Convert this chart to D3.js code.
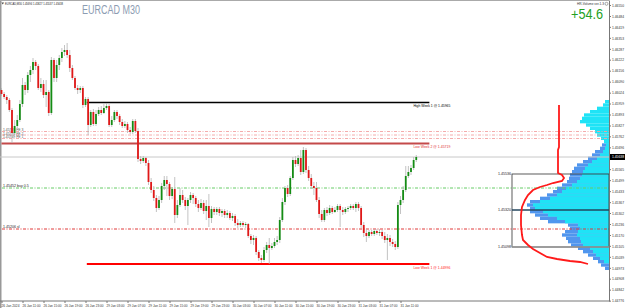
<!DOCTYPE html>
<html lang="en">
<head>
<meta charset="UTF-8">
<title>EURCAD M30</title>
<script src="https://d3js.org/d3.v7.min.js"></script>
<style>
  body { margin: 0; background: #fff; font-family: "Liberation Sans", Arial, sans-serif; }
  svg { display: block; }
</style>
</head>
<body>
<svg id="chart" width="625" height="308"></svg>
<script>
// M30 candles, 26 Jan 07:00 -> 31 Jan 14:00
const opens = [
  1.46040,1.46016,1.45998,1.45980,1.45920,1.45782,1.45824,1.45860,1.45956,1.46070,
  1.46040,1.46130,1.46160,1.46208,1.46184,1.46052,1.46076,1.46010,1.46028,1.45902,
  1.46220,1.46112,1.46190,1.46232,1.46268,1.46280,1.46250,1.46172,1.46112,1.46052,
  1.46040,1.46052,1.45950,1.45986,1.45830,1.45908,1.45836,1.45896,1.45920,1.45902,
  1.45932,1.45944,1.45830,1.45860,1.45908,1.45884,1.45848,1.45824,1.45836,1.45800,
  1.45788,1.45854,1.45794,1.45626,1.45614,1.45632,1.45602,1.45488,1.45440,1.45392,
  1.45332,1.45380,1.45464,1.45500,1.45476,1.45404,1.45446,1.45290,1.45350,1.45410,
  1.45380,1.45344,1.45380,1.45410,1.45392,1.45356,1.45332,1.45362,1.45314,1.45344,
  1.45272,1.45326,1.45308,1.45326,1.45302,1.45314,1.45290,1.45302,1.45272,1.45284,
  1.45242,1.45230,1.45242,1.45230,1.45236,1.45164,1.45140,1.45152,1.45068,1.45032,
  1.45020,1.45080,1.45110,1.45092,1.45104,1.45128,1.45140,1.45260,1.45368,1.45452,
  1.45416,1.45512,1.45620,1.45596,1.45632,1.45548,1.45680,1.45560,1.45512,1.45464,
  1.45452,1.45380,1.45296,1.45260,1.45320,1.45302,1.45332,1.45308,1.45320,1.45344,
  1.45320,1.45308,1.45326,1.45332,1.45344,1.45332,1.45356,1.45332,1.45230,1.45182,
  1.45164,1.45188,1.45176,1.45194,1.45182,1.45188,1.45164,1.45140,1.45152,1.45128,
  1.45116,1.45098,1.45350,1.45380,1.45440,1.45524,1.45548,1.45572,1.45620
];
const highs = [
  1.46052,1.46028,1.46010,1.45992,1.45932,1.45860,1.45890,1.45980,1.46112,1.46088,
  1.46148,1.46184,1.46232,1.46220,1.46196,1.46112,1.46100,1.46100,1.46040,1.46238,
  1.46232,1.46220,1.46250,1.46292,1.46310,1.46322,1.46280,1.46190,1.46124,1.46070,
  1.46064,1.46064,1.45998,1.45998,1.45920,1.45926,1.45920,1.45938,1.45944,1.45956,
  1.45962,1.45956,1.45884,1.45920,1.45920,1.45896,1.45866,1.45854,1.45848,1.45818,
  1.45866,1.45866,1.45812,1.45644,1.45644,1.45638,1.45620,1.45512,1.45464,1.45410,
  1.45404,1.45482,1.45524,1.45524,1.45488,1.45458,1.45518,1.45380,1.45452,1.45440,
  1.45398,1.45392,1.45428,1.45422,1.45404,1.45380,1.45386,1.45380,1.45380,1.45416,
  1.45344,1.45338,1.45338,1.45338,1.45326,1.45326,1.45320,1.45314,1.45302,1.45296,
  1.45266,1.45254,1.45254,1.45248,1.45242,1.45176,1.45170,1.45164,1.45080,1.45050,
  1.45098,1.45128,1.45152,1.45122,1.45152,1.45164,1.45278,1.45392,1.45464,1.45470,
  1.45524,1.45638,1.45644,1.45650,1.45680,1.45698,1.45692,1.45584,1.45536,1.45488,
  1.45488,1.45398,1.45320,1.45332,1.45338,1.45350,1.45344,1.45338,1.45356,1.45356,
  1.45338,1.45338,1.45344,1.45356,1.45356,1.45368,1.45368,1.45344,1.45248,1.45206,
  1.45200,1.45200,1.45206,1.45206,1.45206,1.45200,1.45188,1.45176,1.45170,1.45146,
  1.45134,1.45368,1.45404,1.45464,1.45584,1.45584,1.45590,1.45638,1.45650
];
const lows = [
  1.46004,1.45986,1.45956,1.45908,1.45722,1.45770,1.45812,1.45848,1.45938,1.46010,
  1.46022,1.46088,1.46136,1.46160,1.46040,1.46028,1.45992,1.45938,1.45884,1.45890,
  1.46088,1.46088,1.46160,1.46208,1.46244,1.46232,1.46148,1.46100,1.46040,1.46016,
  1.46022,1.45932,1.45938,1.45770,1.45818,1.45824,1.45824,1.45884,1.45890,1.45896,
  1.45920,1.45818,1.45818,1.45848,1.45866,1.45830,1.45812,1.45812,1.45782,1.45776,
  1.45776,1.45782,1.45608,1.45596,1.45602,1.45584,1.45470,1.45422,1.45374,1.45308,
  1.45320,1.45362,1.45440,1.45404,1.45380,1.45386,1.45242,1.45272,1.45338,1.45362,
  1.45320,1.45230,1.45362,1.45356,1.45338,1.45308,1.45320,1.45296,1.45260,1.45218,
  1.45242,1.45290,1.45290,1.45284,1.45278,1.45272,1.45272,1.45260,1.45254,1.45224,
  1.45212,1.45218,1.45218,1.45212,1.45152,1.45116,1.45110,1.45050,1.45014,1.45002,
  1.45008,1.45062,1.44996,1.45080,1.45092,1.45110,1.45122,1.45248,1.45350,1.45398,
  1.45404,1.45500,1.45578,1.45584,1.45530,1.45536,1.45542,1.45494,1.45446,1.45410,
  1.45368,1.45272,1.45248,1.45248,1.45284,1.45290,1.45296,1.45302,1.45308,1.45218,
  1.45290,1.45296,1.45308,1.45320,1.45320,1.45308,1.45314,1.45212,1.45158,1.45128,
  1.45152,1.45164,1.45164,1.45170,1.45164,1.45146,1.45122,1.45020,1.45104,1.45098,
  1.45080,1.45086,1.45296,1.45362,1.45428,1.45512,1.45530,1.45560,1.45608
];
const closes = [
  1.46016,1.45998,1.45980,1.45920,1.45782,1.45824,1.45860,1.45956,1.46070,1.46040,
  1.46130,1.46160,1.46208,1.46184,1.46052,1.46076,1.46010,1.46028,1.45902,1.46220,
  1.46112,1.46190,1.46232,1.46268,1.46280,1.46250,1.46172,1.46112,1.46052,1.46040,
  1.46052,1.45950,1.45986,1.45830,1.45908,1.45836,1.45896,1.45920,1.45902,1.45932,
  1.45944,1.45830,1.45860,1.45908,1.45884,1.45848,1.45824,1.45836,1.45800,1.45788,
  1.45854,1.45794,1.45626,1.45614,1.45632,1.45602,1.45488,1.45440,1.45392,1.45332,
  1.45380,1.45464,1.45500,1.45476,1.45404,1.45446,1.45290,1.45350,1.45410,1.45380,
  1.45344,1.45380,1.45410,1.45392,1.45356,1.45332,1.45362,1.45314,1.45344,1.45272,
  1.45326,1.45308,1.45326,1.45302,1.45314,1.45290,1.45302,1.45272,1.45284,1.45242,
  1.45230,1.45242,1.45230,1.45236,1.45164,1.45140,1.45152,1.45068,1.45032,1.45020,
  1.45080,1.45110,1.45092,1.45104,1.45128,1.45140,1.45260,1.45368,1.45452,1.45416,
  1.45512,1.45620,1.45596,1.45632,1.45548,1.45680,1.45560,1.45512,1.45464,1.45452,
  1.45380,1.45296,1.45260,1.45320,1.45302,1.45332,1.45308,1.45320,1.45344,1.45320,
  1.45308,1.45326,1.45332,1.45344,1.45332,1.45356,1.45332,1.45230,1.45182,1.45164,
  1.45188,1.45176,1.45194,1.45182,1.45188,1.45164,1.45140,1.45152,1.45128,1.45116,
  1.45098,1.45350,1.45380,1.45440,1.45524,1.45548,1.45572,1.45620,1.45638
];

const timeLabels = ["26 Jan 2024","26 Jan 11:00","26 Jan 15:00","26 Jan 19:00","26 Jan 23:00",
  "29 Jan 03:00","29 Jan 07:00","29 Jan 11:00","29 Jan 15:00","29 Jan 19:00","29 Jan 23:00",
  "30 Jan 03:00","30 Jan 07:00","30 Jan 11:00","30 Jan 15:00","30 Jan 19:00","30 Jan 23:00",
  "31 Jan 03:00","31 Jan 07:00","31 Jan 11:00"];
const timeLabelBars = [0,8,16,24,32,40,48,56,64,72,80,88,96,104,112,120,128,136,144,152];

const priceTicks = [1.46550,1.46484,1.46419,1.46353,1.46287,1.46222,1.46156,1.46090,1.46024,
  1.45959,1.45893,1.45827,1.45762,1.45696,1.45565,1.45499,1.45433,1.45367,1.45302,1.45236,
  1.45170,1.45105,1.45039,1.44973,1.44908,1.44842,1.44776];

// weekly levels
const weekNames = ["High Week 1", "Low Week 2", "Low Week 1"];
const weekPrices = [1.45965, 1.45719, 1.44996];
const weekFromBar = [32.5, -1, 32.5];
const weekToBar = 163;

// fibo / trade levels
const fiboPrices = [1.45791, 1.45770, 1.45749];
const fiboNames = ["1.45791 FE 3", "1.45770 FE 2", "1.45749 FE 1"];
const entryPrice = 1.45452, entryName = "1.45452 buy 0.5";
const stopPrice = 1.45206, stopName = "1.45206 sl";

// volume profile (bin edges, two volume series)
const profileEdges = [1.45980,1.45960,1.45940,1.45920,1.45900,1.45880,1.45860,1.45840,1.45820,1.45800,
  1.45780,1.45760,1.45740,1.45720,1.45700,1.45680,1.45660,1.45640,1.45620,1.45600,
  1.45580,1.45560,1.45540,1.45520,1.45500,1.45480,1.45460,1.45440,1.45420,1.45400,
  1.45380,1.45360,1.45340,1.45320,1.45300,1.45280,1.45260,1.45240,1.45220,1.45200,
  1.45180,1.45160,1.45140,1.45120,1.45100,1.45080,1.45060,1.45040,1.45020,1.45000,
  1.44980,1.44960];
const volTotal = [0,0,0,0,0,0,0,0,0,0,0,0,0,7,9,14,17,21,26,32,35,37,39,40,42,47,52,56,62,69,
  79,82,79,79,74,69,61,41,39,44,47,43,41,38,31,26,21,16,11,8,4];
const volCore = [4,6,12,19,25,27,29,23,19,14,12,8,5,3,4,6,9,12,17,21,24,26,27,29,32,37,43,47,52,59,
  69,76,74,66,61,52,44,31,29,31,32,29,28,26,19,16,13,9,5,0,0];

// profile outline
const curvePrices = [1.45950,1.45698,1.45680,1.45542,1.45530,1.45512,1.45494,1.45482,1.45470,1.45458,
  1.45440,1.45410,1.45380,1.45338,1.45290,1.45230,1.45170,1.45140,1.45110,1.45086,
  1.45062,1.45038,1.45026,1.45014,1.45008,1.44996];
const curveVols = [50,50,51,51,47,45,47,56,62,69,76,81,84,87,88,88,87,86,81,76,69,62,52,39,29,21];

// value area box
const boxPrices = [1.45536, 1.45320, 1.45098];
const boxVol = 97;

const svg = d3.select("#chart");
const x = d3.scaleLinear().domain([0, 158]).range([1.5, 416.25]);
const y = d3.scaleLinear().domain([1.46580, 1.44774]).range([0, 301]);
const xv = d3.scaleLinear().domain([0, 100]).range([609, 509]);
const fmt = d3.format(".5f");
const last = closes[closes.length - 1];

// frame
svg.append("rect").attr("width", 625).attr("height", 308).attr("fill", "#fff");
svg.append("line").attr("x1", 0.75).attr("x2", 0.75).attr("y1", 0).attr("y2", 308)
  .attr("stroke", "#999").attr("stroke-width", 1.5);
svg.append("line").attr("x1", 0).attr("x2", 609).attr("y1", 0.5).attr("y2", 0.5)
  .attr("stroke", "#aaa");

// volume profile
const bins = volTotal.map((v, k) => ({top: profileEdges[k], bot: profileEdges[k + 1], v, c: volCore[k]}));
svg.append("g").selectAll("rect").data(bins.filter(d => d.v > 0)).join("rect")
  .attr("x", d => xv(d.v)).attr("width", d => xv(0) - xv(d.v))
  .attr("y", d => y(d.top)).attr("height", d => y(d.bot) - y(d.top))
  .attr("fill", "#5096ee");
svg.append("g").selectAll("rect").data(bins.filter(d => d.c > 0)).join("rect")
  .attr("x", d => xv(d.c)).attr("width", d => xv(0) - xv(d.c))
  .attr("y", d => y(d.top)).attr("height", d => y(d.bot) - y(d.top))
  .attr("fill", "#1fe3f6");

// current price line
svg.append("line").attr("x1", 0).attr("x2", 609).attr("y1", y(last)).attr("y2", y(last))
  .attr("stroke", "#c8c8c8").attr("stroke-width", 1);

// fibo lines
fiboPrices.forEach((p, i) => {
  svg.append("line").attr("x1", 2).attr("x2", 609).attr("y1", y(p)).attr("y2", y(p))
    .attr("stroke", "#f3a3a3").attr("stroke-width", 0.9).attr("stroke-dasharray", "3,1.5,1,1.5");
  svg.append("text").attr("x", 3).attr("y", y(p) - 0.4).attr("font-size", 3.4)
    .attr("fill", "#555").text(fiboNames[i]);
});
[[entryPrice, entryName, "#66cc66"], [stopPrice, stopName, "#e03a3a"]].forEach(([p, name, col]) => {
  svg.append("line").attr("x1", 2).attr("x2", 609).attr("y1", y(p)).attr("y2", y(p))
    .attr("stroke", col).attr("stroke-width", 1).attr("stroke-dasharray", "3,1.5,1,1.5");
  svg.append("text").attr("x", 3).attr("y", y(p) - 0.8).attr("font-size", 3.6)
    .attr("fill", "#222").text(name);
});

// weekly levels
const weekStyle = [["#000", 1.4, "#000"], ["#c44a4a", 2, "#e03030"], ["#ff0000", 2, "#ff2020"]];
weekPrices.forEach((p, i) => {
  const [col, w, tcol] = weekStyle[i];
  svg.append("line").attr("x1", Math.max(1.5, x(weekFromBar[i]))).attr("x2", x(weekToBar))
    .attr("y1", y(p)).attr("y2", y(p)).attr("stroke", col).attr("stroke-width", w);
  svg.append("text").attr("x", x(weekToBar) - 16).attr("y", y(p) + 4.6)
    .attr("font-size", 3.8).attr("textLength", 37).attr("lengthAdjust", "spacingAndGlyphs")
    .attr("fill", tcol).text(`${weekNames[i]} @ ${fmt(p)}`);
});

// candles
const bars = closes.map((c, i) => ({i, o: opens[i], h: highs[i], l: lows[i], c}));
const cg = svg.append("g");
cg.selectAll("line").data(bars).join("line")
  .attr("x1", d => x(d.i)).attr("x2", d => x(d.i))
  .attr("y1", d => y(d.h)).attr("y2", d => y(d.l))
  .attr("stroke", "#b4b4b4").attr("stroke-width", 0.8);
cg.selectAll("rect").data(bars).join("rect")
  .attr("x", d => x(d.i) - 0.9).attr("width", 1.8)
  .attr("y", d => y(Math.max(d.o, d.c)))
  .attr("height", d => Math.max(0.6, Math.abs(y(d.o) - y(d.c))))
  .attr("fill", d => d.c >= d.o ? "#148c14" : "#e01818");

// value area box
svg.append("rect").attr("x", xv(boxVol)).attr("y", y(boxPrices[0]))
  .attr("width", xv(0) - xv(boxVol)).attr("height", y(boxPrices[2]) - y(boxPrices[0]))
  .attr("fill", "none").attr("stroke", "#333").attr("stroke-width", 0.8);
svg.append("line").attr("x1", xv(boxVol)).attr("x2", xv(0))
  .attr("y1", y(boxPrices[1])).attr("y2", y(boxPrices[1])).attr("stroke", "#24465e").attr("stroke-width", 1.4);
svg.append("line").attr("x1", xv(boxVol)).attr("x2", xv(0))
  .attr("y1", y(boxPrices[2])).attr("y2", y(boxPrices[2])).attr("stroke", "#999").attr("stroke-width", 1.6);
boxPrices.forEach(p => {
  svg.append("text").attr("x", xv(boxVol) - 1).attr("y", y(p)).attr("dy", "0.35em")
    .attr("text-anchor", "end").attr("font-size", 3.6).attr("fill", "#222").text(fmt(p));
});

// profile outline
svg.append("path")
  .datum(curvePrices.map((p, i) => [curveVols[i], p]))
  .attr("fill", "none").attr("stroke", "#ff1a1a").attr("stroke-width", 1.8)
  .attr("d", d3.line().x(d => xv(d[0])).y(d => y(d[1])).curve(d3.curveLinear));

// price axis
svg.append("g").attr("transform", "translate(609,0)")
  .call(d3.axisRight(y).tickValues(priceTicks).tickSize(2).tickSizeOuter(0).tickPadding(1).tickFormat(fmt))
  .call(g => g.select(".domain").attr("stroke", "#777"))
  .call(g => g.selectAll(".tick line").attr("stroke", "#777"))
  .call(g => g.selectAll("text").attr("font-size", 3.8).attr("textLength", 12)
    .attr("lengthAdjust", "spacingAndGlyphs").attr("fill", "#333").attr("font-family", "Liberation Sans, Arial"));
svg.append("rect").attr("x", 610).attr("y", y(last) - 3).attr("width", 15).attr("height", 6).attr("fill", "#000");
svg.append("text").attr("x", 612).attr("y", y(last)).attr("dy", "0.35em").attr("font-size", 3.8)
  .attr("textLength", 12).attr("lengthAdjust", "spacingAndGlyphs").attr("fill", "#fff").text(fmt(last));

// time axis
svg.append("line").attr("x1", 0).attr("x2", 609).attr("y1", 301).attr("y2", 301).attr("stroke", "#777");
svg.append("g").attr("transform", "translate(0,301)")
  .call(d3.axisBottom(x).tickValues(timeLabelBars).tickSize(2).tickSizeOuter(0).tickPadding(1)
    .tickFormat((d, i) => timeLabels[i]))
  .call(g => g.select(".domain").remove())
  .call(g => g.selectAll(".tick line").attr("stroke", "#777"))
  .call(g => g.selectAll("text").attr("text-anchor", "start").attr("dx", -0.5)
    .attr("font-size", 3.6).attr("textLength", 18).attr("lengthAdjust", "spacingAndGlyphs")
    .attr("fill", "#333").attr("font-family", "Liberation Sans, Arial"));

// headers
svg.append("path").attr("d", "M1.5,2.5 L4,2.5 L2.75,4.5 Z").attr("fill", "#444");
svg.append("text").attr("x", 5).attr("y", 5).attr("font-size", 3.6).attr("fill", "#222")
  .attr("textLength", 58).attr("lengthAdjust", "spacingAndGlyphs")
  .text(`EURCAD,M30  1.45694 1.45827 1.45537 ${fmt(last)}`);
svg.append("text").attr("x", 82).attr("y", 14).attr("font-size", 12.5).attr("fill", "#8c9cb2")
  .attr("textLength", 58).attr("lengthAdjust", "spacingAndGlyphs").text("EURCAD M30");
svg.append("text").attr("x", 571).attr("y", 19.3).attr("font-size", 14).attr("fill", "#22a022")
  .attr("textLength", 32).attr("lengthAdjust", "spacingAndGlyphs").text("+54.6");
svg.append("text").attr("x", 577).attr("y", 5).attr("font-size", 3.4).attr("fill", "#333")
  .attr("textLength", 27).attr("lengthAdjust", "spacingAndGlyphs").text("HR-Volume ver.1.3");
svg.append("circle").attr("cx", 606.5).attr("cy", 3.8).attr("r", 1.5)
  .attr("fill", "none").attr("stroke", "#555").attr("stroke-width", 0.5);
</script>
</body>
</html>
